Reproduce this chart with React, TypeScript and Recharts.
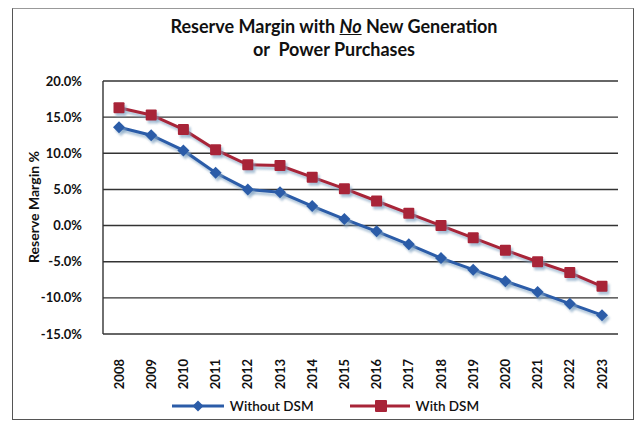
import React from 'react'
import {
  LineChart,
  Line,
  XAxis,
  YAxis,
  CartesianGrid,
  Legend,
} from 'recharts'

const YEARS = [
  '2008', '2009', '2010', '2011', '2012', '2013', '2014', '2015',
  '2016', '2017', '2018', '2019', '2020', '2021', '2022', '2023',
]

// reserve margin in percent
const WITHOUT_DSM = [
  13.6, 12.5, 10.4, 7.3, 5.0, 4.6, 2.7, 0.9,
  -0.8, -2.6, -4.5, -6.1, -7.7, -9.2, -10.8, -12.4,
]
const WITH_DSM = [
  16.3, 15.3, 13.3, 10.5, 8.4, 8.3, 6.7, 5.1,
  3.4, 1.7, 0.0, -1.7, -3.4, -5.0, -6.5, -8.4,
]

const Y_TICKS = [-15, -10, -5, 0, 5, 10, 15, 20]

const BLUE = '#2b5ca8'
const RED = '#a82438'
const FONT = 'Lato, "Open Sans", sans-serif'

const data = YEARS.map((year, i) => ({
  year,
  without: WITHOUT_DSM[i],
  withDsm: WITH_DSM[i],
}))

const Diamond = ({ cx, cy, fill, size = 6 }: any) => (
  <path
    d={`M${cx},${cy - size} L${cx + size},${cy} L${cx},${cy + size} L${cx - size},${cy} Z`}
    fill={fill}
  />
)

const Square = ({ cx, cy, fill, size = 5.5 }: any) => (
  <rect x={cx - size} y={cy - size} width={size * 2} height={size * 2} fill={fill} rx={1} />
)

const YearTick = ({ x, y, payload }: any) => (
  <g transform={`translate(${x},${y + 23})`}>
    <text
      transform="rotate(-90)"
      textAnchor="end"
      dy="0.36em"
      fill="#111"
      fontSize={13}
      fontWeight={700}
      fontFamily={FONT}
    >
      {payload.value}
    </text>
  </g>
)

const renderLegend = () => (
  <div
    style={{
      display: 'flex',
      justifyContent: 'center',
      gap: 36,
      fontFamily: FONT,
      fontSize: 13.5,
      color: '#111',
      fontWeight: 600,
      paddingLeft: 12,
    }}
  >
    <div style={{ display: 'flex', alignItems: 'center', gap: 6 }}>
      <svg width={52} height={14}>
        <line x1={0} y1={7} x2={52} y2={7} stroke={BLUE} strokeWidth={3} />
        <Diamond cx={26} cy={7} fill={BLUE} size={5.5} />
      </svg>
      <span>Without DSM</span>
    </div>
    <div style={{ display: 'flex', alignItems: 'center', gap: 6 }}>
      <svg width={60} height={14}>
        <line x1={0} y1={7} x2={60} y2={7} stroke={RED} strokeWidth={3} />
        <Square cx={31} cy={7} fill={RED} size={6} />
      </svg>
      <span>With DSM</span>
    </div>
  </div>
)

export default function App() {
  return (
    <div
      style={{
        position: 'absolute',
        left: 0,
        top: 0,
        width: 639,
        height: 422,
        background: '#fff',
        overflow: 'hidden',
      }}
    >
      <style>{`
        .recharts-line-curve, .recharts-line-dots {
          filter: drop-shadow(2px 3px 1px rgba(130, 165, 195, 0.65));
        }
      `}</style>
      {/* frame */}
      <div
        style={{
          position: 'absolute',
          left: 12,
          top: 8,
          width: 620,
          height: 410,
          border: '1.5px solid #555',
          borderTopColor: '#999',
        }}
      />
      {/* title */}
      <div
        style={{
          position: 'absolute',
          left: 0,
          top: 15,
          width: 668,
          textAlign: 'center',
          fontFamily: FONT,
          fontWeight: 700,
          fontSize: 18,
          lineHeight: '23px',
          color: '#111',
        }}
      >
        Reserve Margin with{' '}
        <span style={{ fontStyle: 'italic', textDecoration: 'underline' }}>No</span> New
        Generation
        <br />
        or&nbsp; Power Purchases
      </div>
      {/* y axis title */}
      <div
        style={{
          position: 'absolute',
          left: 33,
          top: 207,
          transform: 'translate(-50%, -50%) rotate(-90deg)',
          whiteSpace: 'nowrap',
          fontFamily: FONT,
          fontWeight: 700,
          fontSize: 14,
          color: '#111',
        }}
      >
        Reserve Margin %
      </div>
      <LineChart
        width={639}
        height={422}
        data={data}
        margin={{ top: 81, right: 21, bottom: 0, left: 43 }}
        style={{ position: 'absolute', left: 0, top: 0 }}
      >
        <CartesianGrid vertical={false} stroke="#333" strokeWidth={1.4} />
        <XAxis
          dataKey="year"
          interval={0}
          padding={{ left: 16, right: 16 }}
          axisLine={false}
          tickLine={false}
          tickSize={0}
          tick={<YearTick />}
          height={72}
        />
        <YAxis
          domain={[-15, 20]}
          ticks={Y_TICKS}
          width={60}
          tickFormatter={(v: number) => `${v.toFixed(1)}%`}
          axisLine={{ stroke: '#333', strokeWidth: 1.4 }}
          tickLine={false}
          tickSize={0}
          tickMargin={21}
          tick={{ fill: '#111', fontSize: 13, fontWeight: 700, fontFamily: FONT }}
        />
        <Legend
          content={renderLegend}
          wrapperStyle={{ position: 'absolute', left: 0, width: 639, top: 398 }}
        />
        <Line
          dataKey="without"
          name="Without DSM"
          stroke={BLUE}
          strokeWidth={3}
          dot={(p: any) => <Diamond key={`d-${p.index}`} cx={p.cx} cy={p.cy} fill={BLUE} />}
          activeDot={false}
          isAnimationActive={false}
        />
        <Line
          dataKey="withDsm"
          name="With DSM"
          stroke={RED}
          strokeWidth={3}
          dot={(p: any) => <Square key={`s-${p.index}`} cx={p.cx} cy={p.cy} fill={RED} />}
          activeDot={false}
          isAnimationActive={false}
        />
      </LineChart>
    </div>
  )
}
